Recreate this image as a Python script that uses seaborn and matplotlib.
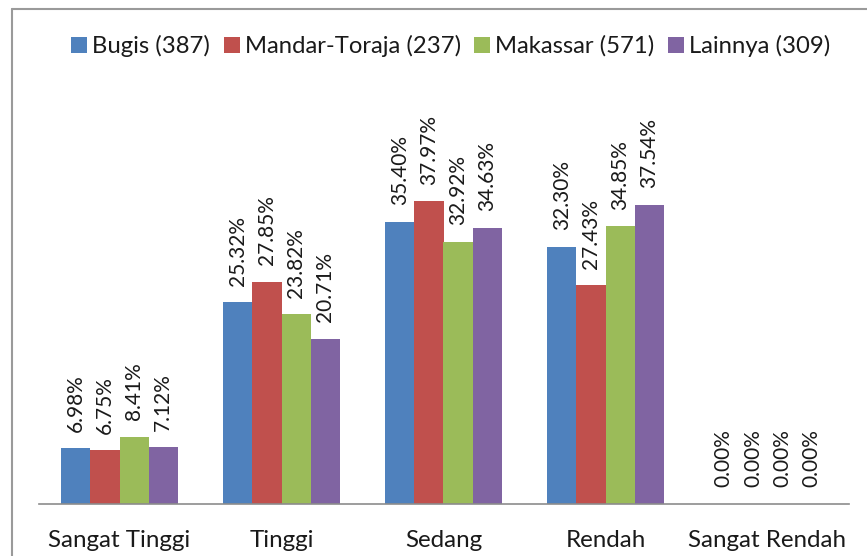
import matplotlib
matplotlib.use("Agg")
import matplotlib.pyplot as plt
import seaborn as sns
import pandas as pd
from matplotlib.lines import Line2D

categories = ["Sangat Tinggi", "Tinggi", "Sedang", "Rendah", "Sangat Rendah"]
groups = ["Bugis (387)", "Mandar-Toraja (237)", "Makassar (571)", "Lainnya (309)"]
bugis = [6.98, 25.32, 35.40, 32.30, 0.00]
mandar_toraja = [6.75, 27.85, 37.97, 27.43, 0.00]
makassar = [8.41, 23.82, 32.92, 34.85, 0.00]
lainnya = [7.12, 20.71, 34.63, 37.54, 0.00]
colors = ["#4F81BD", "#C0504D", "#9BBB59", "#8064A2"]

rows = []
for name, vals in zip(groups, [bugis, mandar_toraja, makassar, lainnya]):
    for cat, v in zip(categories, vals):
        rows.append({"Kategori": cat, "Suku": name, "Persen": v})
df = pd.DataFrame(rows)

sns.set_theme(style="white")
plt.rcParams["font.family"] = ["Lato", "DejaVu Sans"]

fig = plt.figure(figsize=(8.67, 5.56), dpi=100)
ax = fig.add_axes([38.5 / 867, 1 - 504 / 556, 810 / 867, 400 / 556])

sns.barplot(data=df, x="Kategori", y="Persen", hue="Suku", order=categories,
            hue_order=groups, palette=colors, width=0.72, gap=0,
            saturation=1, ax=ax, legend=False, linewidth=0)

for cont in ax.containers:
    ax.bar_label(cont, labels=[f"{v:.2f}%" for v in cont.datavalues],
                 rotation=90, padding=12, fontsize=15, color="#1a1a1a")

ax.set_ylim(0, 50.2)
ax.set_xlim(-0.5, 4.5)
ax.set_xlabel("")
ax.set_ylabel("")
ax.set_yticks([])
ax.tick_params(axis="x", length=0, pad=19, labelsize=17.4, labelcolor="#1a1a1a")
for s in ["left", "right", "top"]:
    ax.spines[s].set_visible(False)
ax.spines["bottom"].set_color("#8c8c8c")
ax.spines["bottom"].set_linewidth(1.2)

handles = [Line2D([0], [0], marker="s", linestyle="none", markersize=12,
                  markerfacecolor=c, markeredgewidth=0) for c in colors]
fig.legend(handles, groups, loc="center", bbox_to_anchor=(450 / 867, 1 - 46 / 556),
           ncol=4, frameon=False, fontsize=17.2, handlelength=0.8,
           handletextpad=0.15, columnspacing=0.5, labelcolor="#1a1a1a")

# outer chart frame
fig.add_artist(Line2D([12 / 867, 12 / 867], [0, 1 - 9 / 556], transform=fig.transFigure,
                      color="#9a9a9a", linewidth=1.5))
fig.add_artist(Line2D([12 / 867, 1], [1 - 9 / 556, 1 - 9 / 556], transform=fig.transFigure,
                      color="#9a9a9a", linewidth=1.5))

fig.savefig("out.png", dpi=100)
